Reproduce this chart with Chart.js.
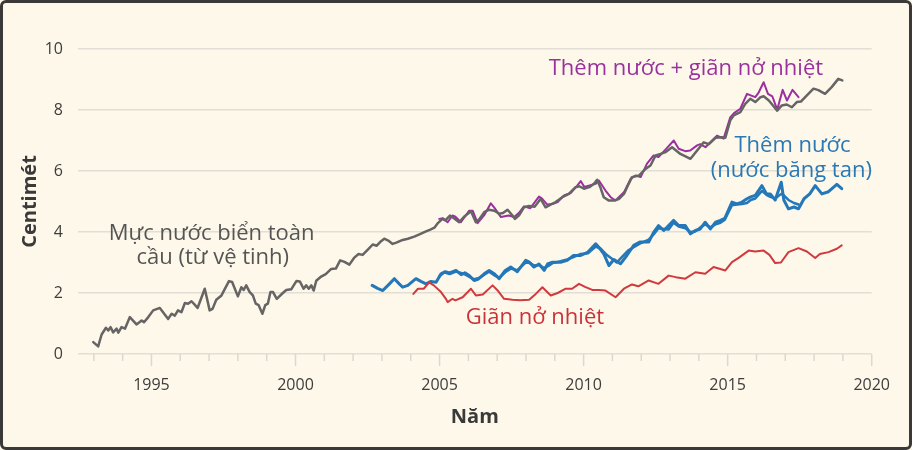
<!DOCTYPE html>
<html>
<head>
<meta charset="utf-8">
<script src="https://cdn.jsdelivr.net/npm/chart.js@4"></script>
<style>
  html, body { margin:0; padding:0; background:#fdf8e9; }
  #wrap { position:relative; width:912px; height:450px; }
  canvas { position:absolute; left:0; top:0; }
  #frame { position:absolute; left:0; top:0; width:912px; height:450px; box-sizing:border-box;
           border:3px solid #3b3838; border-radius:6px; pointer-events:none; }
</style>
</head>
<body>
<div id="wrap"><canvas id="c" width="912" height="450"></canvas><div id="frame"></div></div>
<script>
// ---- Data ----
const gmslYears = [1992.98,1993.15,1993.27,1993.42,1993.50,1993.58,1993.67,1993.79,1993.85,1993.96,1994.08,1994.25,1994.48,1994.66,1994.74,1994.89,1995.06,1995.29,1995.58,1995.70,1995.81,1995.92,1996.04,1996.16,1996.27,1996.39,1996.50,1996.60,1996.85,1997.02,1997.12,1997.25,1997.43,1997.58,1997.69,1997.80,1998.00,1998.12,1998.20,1998.29,1998.41,1998.52,1998.62,1998.72,1998.85,1998.95,1999.04,1999.13,1999.22,1999.35,1999.56,1999.68,1999.85,2000.03,2000.15,2000.28,2000.37,2000.46,2000.55,2000.63,2000.72,2000.89,2001.05,2001.24,2001.40,2001.55,2001.70,2001.87,2002.03,2002.19,2002.33,2002.51,2002.68,2002.82,2002.97,2003.08,2003.22,2003.37,2003.50,2003.72,2003.90,2004.12,2004.32,2004.53,2004.68,2004.82,2004.95,2005.10,2005.20,2005.36,2005.50,2005.68,2005.85,2006.09,2006.26,2006.38,2006.55,2006.72,2006.90,2007.07,2007.20,2007.36,2007.48,2007.62,2007.76,2007.93,2008.10,2008.30,2008.51,2008.68,2008.85,2009.03,2009.26,2009.49,2009.72,2009.85,2010.01,2010.20,2010.36,2010.47,2010.58,2010.70,2010.88,2011.05,2011.22,2011.40,2011.55,2011.68,2011.92,2012.15,2012.32,2012.50,2012.67,2012.85,2013.07,2013.36,2013.71,2013.94,2014.17,2014.35,2014.58,2014.80,2014.92,2015.09,2015.21,2015.44,2015.61,2015.79,2015.96,2016.14,2016.25,2016.43,2016.72,2016.88,2017.05,2017.23,2017.40,2017.55,2017.75,2017.98,2018.15,2018.38,2018.61,2018.84,2018.98];
const gmslValues = [0.39,0.25,0.64,0.86,0.77,0.88,0.71,0.83,0.70,0.88,0.83,1.21,0.97,1.10,1.04,1.21,1.43,1.51,1.15,1.32,1.26,1.43,1.37,1.67,1.65,1.73,1.62,1.51,2.14,1.43,1.48,1.78,1.92,2.19,2.39,2.36,1.89,2.19,2.10,2.25,2.03,1.92,1.65,1.60,1.32,1.60,1.65,2.03,2.03,1.81,2.00,2.10,2.12,2.39,2.38,2.14,2.25,2.14,2.25,2.08,2.40,2.54,2.62,2.79,2.80,3.07,3.02,2.93,3.15,3.28,3.25,3.42,3.59,3.55,3.70,3.78,3.72,3.61,3.65,3.74,3.78,3.85,3.93,4.02,4.08,4.14,4.30,4.43,4.38,4.54,4.45,4.32,4.50,4.68,4.32,4.42,4.65,4.73,4.70,4.60,4.62,4.73,4.60,4.43,4.55,4.81,4.85,4.83,5.09,4.81,4.90,4.98,5.14,5.25,5.47,5.50,5.42,5.47,5.58,5.71,5.47,5.14,5.03,5.03,5.08,5.25,5.55,5.80,5.85,6.07,6.18,6.51,6.56,6.62,6.78,6.56,6.40,6.67,6.94,6.88,7.09,7.11,7.09,7.66,7.82,7.93,8.20,8.37,8.26,8.42,8.45,8.31,7.98,8.15,8.18,8.09,8.26,8.28,8.48,8.70,8.65,8.53,8.75,9.02,8.97];

const sumYears = [2004.99,2005.12,2005.28,2005.45,2005.55,2005.74,2006.03,2006.15,2006.32,2006.55,2006.78,2006.90,2007.13,2007.40,2007.59,2007.75,2007.93,2008.15,2008.45,2008.55,2008.74,2008.92,2009.10,2009.32,2009.55,2009.78,2009.90,2010.02,2010.18,2010.42,2010.53,2010.76,2010.94,2011.11,2011.22,2011.40,2011.63,2011.80,2011.98,2012.20,2012.43,2012.60,2012.84,2013.13,2013.30,2013.53,2013.70,2013.94,2014.05,2014.23,2014.40,2014.63,2014.86,2015.09,2015.22,2015.44,2015.67,2015.80,2015.96,2016.08,2016.25,2016.40,2016.55,2016.72,2016.91,2017.06,2017.25,2017.46];
const sumValues = [4.43,4.45,4.32,4.54,4.50,4.32,4.70,4.70,4.29,4.55,4.94,4.80,4.49,4.54,4.49,4.62,4.84,4.78,5.16,5.10,4.90,4.92,4.98,5.20,5.28,5.52,5.67,5.48,5.52,5.58,5.69,5.36,5.14,5.03,5.14,5.30,5.74,5.85,5.80,6.24,6.51,6.46,6.70,7.00,6.73,6.65,6.67,6.84,6.88,6.78,6.94,7.16,7.06,7.76,7.90,8.04,8.53,8.48,8.42,8.58,8.91,8.53,8.45,8.01,8.66,8.31,8.66,8.42];

const massAYears = [2002.66,2002.85,2003.03,2003.26,2003.43,2003.60,2003.72,2003.90,2004.18,2004.35,2004.53,2004.70,2004.88,2005.05,2005.20,2005.35,2005.57,2005.75,2005.88,2006.03,2006.20,2006.35,2006.55,2006.72,2006.90,2007.07,2007.28,2007.47,2007.70,2007.99,2008.10,2008.28,2008.45,2008.63,2008.75,2008.92,2009.20,2009.43,2009.65,2009.90,2010.15,2010.42,2010.53,2010.70,2010.88,2011.05,2011.28,2011.50,2011.74,2011.95,2012.26,2012.43,2012.60,2012.78,2012.90,2013.12,2013.30,2013.53,2013.71,2013.88,2014.05,2014.22,2014.40,2014.58,2014.75,2014.90,2015.15,2015.32,2015.50,2015.67,2015.80,2015.96,2016.19,2016.35,2016.48,2016.65,2016.86,2016.95,2017.11,2017.30,2017.46,2017.65,2017.85,2018.04,2018.27,2018.50,2018.79,2018.96];
const massAValues = [2.25,2.15,2.08,2.30,2.47,2.30,2.19,2.25,2.47,2.38,2.30,2.38,2.35,2.63,2.70,2.66,2.74,2.60,2.66,2.57,2.41,2.46,2.63,2.74,2.63,2.47,2.74,2.85,2.70,3.07,3.02,2.85,2.95,2.74,2.95,3.01,3.01,3.07,3.23,3.23,3.34,3.61,3.50,3.28,2.90,3.10,2.96,3.23,3.56,3.67,3.67,3.99,4.21,4.05,4.16,4.38,4.21,4.21,3.94,4.05,4.10,4.32,4.10,4.32,4.38,4.45,4.98,4.92,4.98,5.09,5.15,5.20,5.52,5.25,5.25,5.05,5.63,5.05,4.76,4.82,4.76,5.09,5.25,5.52,5.25,5.32,5.56,5.42];

const massBYears = [2005.00,2005.16,2005.35,2005.57,2005.75,2005.90,2006.05,2006.20,2006.40,2006.55,2006.72,2006.90,2007.07,2007.28,2007.47,2007.70,2007.99,2008.15,2008.28,2008.45,2008.63,2008.80,2008.92,2009.20,2009.43,2009.65,2009.90,2010.15,2010.42,2010.60,2010.80,2010.95,2011.15,2011.35,2011.55,2011.74,2011.95,2012.26,2012.43,2012.60,2012.78,2012.95,2013.12,2013.30,2013.53,2013.71,2013.88,2014.05,2014.22,2014.40,2014.58,2014.75,2014.90,2015.15,2015.32,2015.50,2015.67,2015.80,2015.96,2016.19,2016.35,2016.48,2016.65,2016.86,2016.95,2017.11,2017.30,2017.46];
const massBValues = [2.55,2.68,2.62,2.70,2.66,2.60,2.52,2.45,2.50,2.60,2.70,2.58,2.50,2.68,2.80,2.75,3.00,2.98,2.90,2.92,2.82,2.90,2.98,3.04,3.10,3.18,3.28,3.30,3.52,3.45,3.25,3.15,3.00,3.20,3.40,3.50,3.62,3.75,3.92,4.12,4.10,4.08,4.30,4.18,4.12,4.00,4.02,4.15,4.25,4.15,4.25,4.30,4.40,4.88,4.90,4.92,4.95,5.05,5.10,5.35,5.22,5.15,5.10,5.25,5.20,5.05,4.95,4.90];

const thermoYears = [2004.09,2004.25,2004.45,2004.64,2004.80,2005.05,2005.22,2005.28,2005.45,2005.55,2005.80,2006.09,2006.26,2006.50,2006.84,2007.00,2007.24,2007.53,2007.80,2008.11,2008.34,2008.57,2008.86,2009.10,2009.38,2009.60,2009.84,2010.05,2010.30,2010.53,2010.76,2011.11,2011.40,2011.68,2011.90,2012.26,2012.60,2012.95,2013.20,2013.53,2013.88,2014.22,2014.51,2014.92,2015.15,2015.38,2015.73,2015.95,2016.25,2016.45,2016.65,2016.85,2017.11,2017.46,2017.75,2018.04,2018.20,2018.50,2018.79,2018.96];
const thermoValues = [1.97,2.14,2.14,2.35,2.25,2.03,1.81,1.70,1.81,1.76,1.86,2.14,1.92,1.95,2.25,2.10,1.81,1.78,1.76,1.78,1.97,2.19,1.92,2.00,2.14,2.14,2.30,2.20,2.10,2.10,2.08,1.86,2.14,2.28,2.22,2.41,2.30,2.57,2.52,2.47,2.68,2.63,2.85,2.74,3.01,3.15,3.39,3.36,3.39,3.25,2.98,3.00,3.34,3.47,3.36,3.15,3.28,3.34,3.45,3.56];

const yTicks = [0, 2, 4, 6, 8, 10];
const xMajorTicks = [1995, 2000, 2005, 2010, 2015, 2020];
const xMinorTicks = [1993,1994,1996,1997,1998,1999,2001,2002,2003,2004,2006,2007,2008,2009,2011,2012,2013,2014,2016,2017,2018,2019];
const xMin = 1992.45, xMax = 2020;

const labels = [
  { text: 'Thêm nước + giãn nở nhiệt', x: 2013.55, y: 9.36, color: '#99329c' },
  { text: 'Thêm nước', x: 2017.25, y: 6.84, color: '#2a78b5' },
  { text: '(nước băng tan)', x: 2017.21, y: 6.02, color: '#2a78b5' },
  { text: 'Giãn nở nhiệt', x: 2008.31, y: 1.20, color: '#c8333a' },
  { text: 'Mực nước biển toàn', x: 1997.09, y: 3.93, color: '#555555' },
  { text: 'cầu (từ vệ tinh)', x: 1997.13, y: 3.15, color: '#555555' }
];

const pts = (xs, ys) => xs.map((x, i) => ({ x: x, y: ys[i] }));

const FONT = "'Open Sans', 'Noto Sans', sans-serif";

const overlay = {
  id: 'overlay',
  afterDraw(chart) {
    const ctx = chart.ctx;
    const xs = chart.scales.x, ys = chart.scales.y;
    const base = ys.getPixelForValue(0);
    ctx.save();
    ctx.strokeStyle = '#dcd8cf';
    ctx.lineWidth = 1.5;
    xMinorTicks.forEach(v => {
      const px = xs.getPixelForValue(v);
      ctx.beginPath(); ctx.moveTo(px, base); ctx.lineTo(px, base + 7); ctx.stroke();
    });
    xMajorTicks.forEach(v => {
      const px = xs.getPixelForValue(v);
      ctx.beginPath(); ctx.moveTo(px, base); ctx.lineTo(px, base + 12); ctx.stroke();
    });
    ctx.font = "22px " + FONT;
    ctx.textAlign = 'center';
    ctx.textBaseline = 'middle';
    labels.forEach(l => {
      ctx.fillStyle = l.color;
      ctx.fillText(l.text, xs.getPixelForValue(l.x), ys.getPixelForValue(l.y));
    });
    ctx.restore();
  }
};

new Chart(document.getElementById('c'), {
  type: 'line',
  data: {
    datasets: [
      { data: pts(thermoYears, thermoValues), borderColor: '#d03a3e', borderWidth: 2 },
      { data: pts(massBYears, massBValues), borderColor: '#2477b8', borderWidth: 2.5 },
      { data: pts(massAYears, massAValues), borderColor: '#2477b8', borderWidth: 3 },
      { data: pts(gmslYears, gmslValues), borderColor: '#666464', borderWidth: 2.5 },
      { data: pts(sumYears, sumValues), borderColor: '#9b2f9f', borderWidth: 2 }
    ]
  },
  options: {
    responsive: false,
    animation: false,
    events: [],
    layout: { padding: { top: 49, right: 39, left: 0, bottom: 0 } },
    elements: { point: { radius: 0 }, line: { tension: 0, borderJoinStyle: 'round', borderCapStyle: 'round' } },
    plugins: { legend: { display: false }, tooltip: { enabled: false } },
    scales: {
      x: {
        type: 'linear', min: xMin, max: xMax,
        afterBuildTicks: s => { s.ticks = xMajorTicks.map(v => ({ value: v })); },
        ticks: { font: { size: 16, family: FONT }, color: '#3d3d3d', padding: 22, maxRotation: 0, autoSkip: false,
                 callback: v => String(v) },
        grid: { display: false, drawTicks: false },
        border: { display: false },
        title: { display: true, text: 'Năm', color: '#3a3a3a', font: { size: 20, weight: 'bold', family: FONT }, padding: { top: 28, bottom: 21 } },
        afterFit: s => { s.height = 96; }
      },
      y: {
        min: 0, max: 10,
        afterBuildTicks: s => { s.ticks = yTicks.map(v => ({ value: v })); },
        ticks: { font: { size: 16, family: FONT }, color: '#3d3d3d', padding: 15 },
        grid: { color: '#e2ded5', lineWidth: 1.5, drawTicks: false },
        border: { display: false },
        title: { display: true, text: 'Centimét', color: '#3a3a3a', font: { size: 20, weight: 'bold', family: FONT }, padding: { top: 18, bottom: 10 } },
        afterFit: s => { s.width = 78; }
      }
    }
  },
  plugins: [overlay]
});
</script>
</body>
</html>
